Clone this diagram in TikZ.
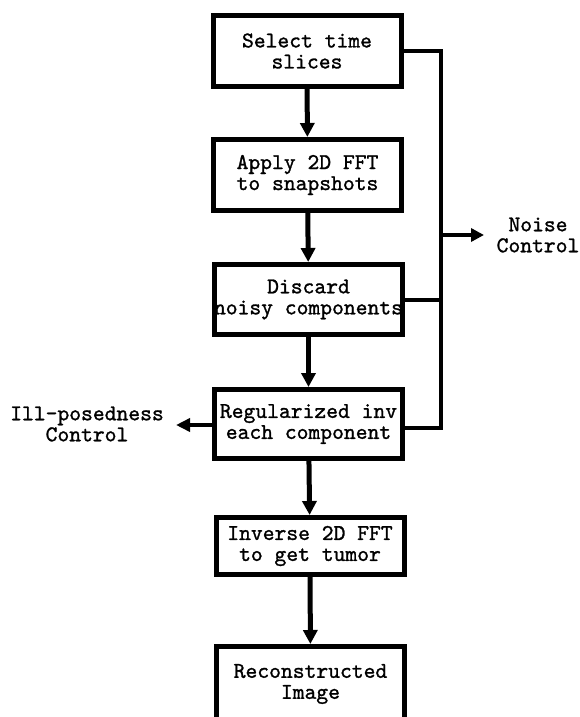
\documentclass[tikz,border=0pt]{standalone}
\usepackage{fontspec}
\usetikzlibrary{arrows.meta}
\newfontfamily\tyfont{lmmono10-regular.otf}[FakeBold=1.2]
\begin{document}
\begin{tikzpicture}[x=1pt,y=-1pt,
  box/.style={draw, line width=5pt, minimum width=188pt, inner sep=0pt, align=center},
  txt/.style={inner sep=0pt, align=center},
  arr/.style={line width=5pt, -{Triangle[length=14pt,width=14pt]}},
  bus/.style={line width=4pt},
  every node/.style={font=\tyfont\fontsize{22.5}{21}\selectfont}]
\useasboundingbox (0,0) rectangle (580,717);
\node[box, minimum height=71pt] (b1) at (307,51) {Select time\\slices};
\node[box, minimum height=71pt] (b2) at (307.5,175) {Apply 2D FFT\\to snapshots};
\node[txt] (b3t) at (308.5,299.5) {Discard\\noisy components};
\node[box, minimum height=70pt] (b3) at (308.5,299.5) {};
\node[box, minimum height=69pt] (b4) at (308.5,424) {Regularized inv\\each component};
\node[box, minimum height=57pt] (b5) at (310,546) {Inverse 2D FFT\\to get tumor};
\node[box, minimum height=75pt] (b6) at (310.5,684) {Reconstructed\\Image};
\node[txt] (nc) at (538,235) {Noise\\Control};
\node[txt] (ic) at (87,424) {Ill-posedness\\Control};
\coordinate (bb) at (441,428);
\coordinate (nj) at (441,235);
\coordinate (ne) at (484,235);
\coordinate (ie) at (176,425);
\draw[arr] (b1) -- (b2);
\draw[arr] (b2) -- (b3);
\draw[arr] (b3) -- (b4);
\draw[arr] (b4) -- (b5);
\draw[arr] (b5) -- (b6);
\draw[bus] (b1.east) -| (bb) -- (b4.east |- bb);
\draw[bus] (b3.east) -- (b3.east -| bb);
\draw[line width=4pt, -{Triangle[length=13pt,width=13pt]}] (nj) -- (ne);
\draw[line width=4pt, -{Triangle[length=14pt,width=13pt]}] (b4.west |- ie) -- (ie);
\end{tikzpicture}
\end{document}
